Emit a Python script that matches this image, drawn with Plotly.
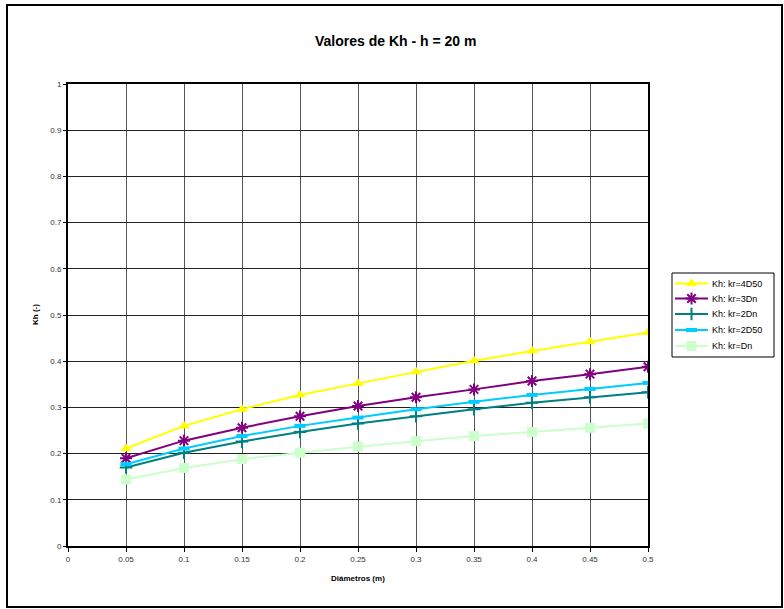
import plotly.graph_objects as go

diametros = [0.05, 0.1, 0.15, 0.2, 0.25, 0.3, 0.35, 0.4, 0.45, 0.5]
kh_4d50 = [0.211, 0.260, 0.296, 0.327, 0.352, 0.377, 0.401, 0.422, 0.442, 0.462]
kh_3dn = [0.190, 0.228, 0.256, 0.281, 0.303, 0.322, 0.339, 0.357, 0.372, 0.388]
kh_2dn = [0.170, 0.202, 0.226, 0.247, 0.265, 0.281, 0.296, 0.310, 0.322, 0.333]
kh_2d50 = [0.177, 0.211, 0.238, 0.260, 0.278, 0.296, 0.312, 0.327, 0.340, 0.353]
kh_dn = [0.144, 0.169, 0.188, 0.202, 0.215, 0.227, 0.238, 0.247, 0.256, 0.265]

x_ticks = [0, 0.05, 0.1, 0.15, 0.2, 0.25, 0.3, 0.35, 0.4, 0.45, 0.5]
x_ticktext = ["0", "0.05", "0.1", "0.15", "0.2", "0.25", "0.3", "0.35", "0.4", "0.45", "0.5"]
y_ticks = [0, 0.1, 0.2, 0.3, 0.4, 0.5, 0.6, 0.7, 0.8, 0.9, 1]
y_ticktext = ["0", "0.1", "0.2", "0.3", "0.4", "0.5", "0.6", "0.7", "0.8", "0.9", "1"]

series = [
    ("Kh: kr=4D50", kh_4d50, "#FFFF00", dict(symbol="triangle-up", size=10)),
    ("Kh: kr=3Dn", kh_3dn, "#800080", dict(symbol="asterisk-open", size=10, line=dict(width=2, color="#800080"))),
    ("Kh: kr=2Dn", kh_2dn, "#008080", dict(symbol="cross-thin-open", size=9, line=dict(width=2, color="#008080"))),
    ("Kh: kr=2D50", kh_2d50, "#00CCFF", dict(symbol="line-ew-open", size=8, line=dict(width=4, color="#00CCFF"))),
    ("Kh: kr=Dn", kh_dn, "#CCFFCC", dict(symbol="square", size=10)),
]

W, H = 784, 609
L, R, T, B = 68, 648, 84, 546

fig = go.Figure()
for name, vals, color, marker in series:
    m = dict(color=color)
    m.update(marker)
    fig.add_trace(go.Scatter(x=diametros, y=vals, name=name, mode="lines+markers",
                             line=dict(color=color, width=2), marker=m, showlegend=False,
                             xaxis="x", yaxis="y"))

# custom legend (pixel-positioned overlay)
leg_x0, leg_x1, leg_y0, leg_y1 = 672, 774, 273, 357
leg_rows = [283.5, 298.5, 314, 330, 346]
annotations = []
for (name, vals, color, marker), ry in zip(series, leg_rows):
    m = dict(color=color)
    m.update(marker)
    fig.add_trace(go.Scatter(x=[675, 708], y=[ry, ry], mode="lines", line=dict(color=color, width=2),
                             showlegend=False, hoverinfo="skip", xaxis="x2", yaxis="y2"))
    fig.add_trace(go.Scatter(x=[691.5], y=[ry], mode="markers", marker=m,
                             showlegend=False, hoverinfo="skip", xaxis="x2", yaxis="y2"))
    annotations.append(dict(text=name, x=710, y=ry, xref="x2", yref="y2", xanchor="left",
                            yanchor="middle", showarrow=False,
                            font=dict(size=9, color="black")))

annotations.append(dict(text="<b>Valores de Kh - h = 20 m</b>", x=395, y=41, xref="x2", yref="y2",
                        xanchor="center", yanchor="middle", showarrow=False,
                        font=dict(size=14, color="black")))
annotations.append(dict(text="<b>Diámetros (m)</b>", x=358, y=578, xref="x2", yref="y2",
                        xanchor="center", yanchor="middle", showarrow=False,
                        font=dict(size=8, color="black")))
annotations.append(dict(text="<b>Kh (-)</b>", x=35, y=315, xref="x2", yref="y2", textangle=-90,
                        xanchor="center", yanchor="middle", showarrow=False,
                        font=dict(size=8, color="black")))

fig.update_layout(
    width=W, height=H,
    margin=dict(l=0, r=0, t=0, b=0, pad=0, autoexpand=False),
    paper_bgcolor="white", plot_bgcolor="rgba(0,0,0,0)",
    font=dict(family="Liberation Sans, Arial, sans-serif", size=8, color="#333333"),
    showlegend=False,
    xaxis=dict(domain=[L / W, R / W], range=[0, 0.5], tickvals=x_ticks, ticktext=x_ticktext,
               showgrid=True, gridcolor="#555555", gridwidth=1,
               showline=True, linecolor="black", linewidth=2, mirror=True,
               ticks="outside", ticklen=4, tickcolor="black", zeroline=False, anchor="y",
               automargin=False),
    yaxis=dict(domain=[(H - B) / H, (H - T) / H], range=[0, 1], tickvals=y_ticks, ticktext=y_ticktext,
               showgrid=True, gridcolor="#222222", gridwidth=1,
               showline=True, linecolor="black", linewidth=2, mirror=True,
               ticks="outside", ticklen=3, tickcolor="black", zeroline=False, anchor="x",
               automargin=False),
    xaxis2=dict(domain=[0, 1], range=[0, W], visible=False, anchor="y2", fixedrange=True,
                automargin=False),
    yaxis2=dict(domain=[0, 1], range=[H, 0], visible=False, anchor="x2", fixedrange=True,
                automargin=False),
    annotations=annotations,
    shapes=[
        dict(type="rect", xref="x2", yref="y2", x0=7, x1=782, y0=5, y1=607,
             line=dict(color="black", width=2), fillcolor="rgba(0,0,0,0)", layer="below"),
        dict(type="rect", xref="x2", yref="y2", x0=leg_x0, x1=leg_x1, y0=leg_y0, y1=leg_y1,
             line=dict(color="black", width=1), fillcolor="white", layer="below"),
    ],
)

fig.write_html("out.html")
